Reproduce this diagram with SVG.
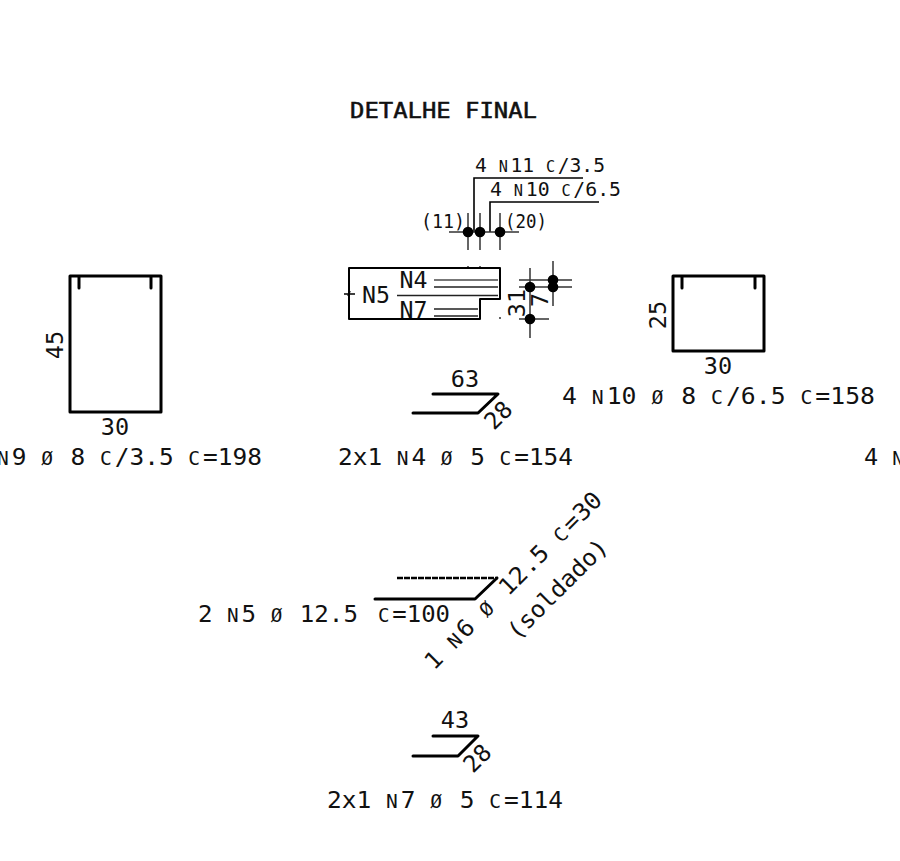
<svg xmlns="http://www.w3.org/2000/svg" width="900" height="861" viewBox="0 0 900 861">
<style>
text{font-family:"DejaVu Sans Mono","Liberation Mono",monospace;fill:#111}
.l{font-size:23.500px}
.s{font-size:20px}
.c{text-anchor:middle}
.l tspan.k{font-size:18.800px;letter-spacing:2.800px}
.s tspan.k{font-size:15.500px;letter-spacing:2.700px}
.h{fill:none;stroke:#000;stroke-width:3;stroke-linecap:round;stroke-linejoin:round}
.m{fill:none;stroke:#000;stroke-width:1.6}
.t{fill:none;stroke:#333;stroke-width:1.5}
.g{fill:none;stroke:#222;stroke-width:1.3}
.d{fill:#000}
</style>
<rect width="900" height="861" fill="#fff"/>
<text id="title" x="350" y="118" textLength="187" lengthAdjust="spacingAndGlyphs" style="font-size:20.500px;stroke:#111;stroke-width:.5">DETALHE FINAL</text>
<g id="section">
<path class="m" d="M474 232V178H583M490 232V202H599"/>
<path class="t" d="M449 232H519M468 213V250M480 213V250M500 213V250M530 268V338M553 261V306M519 280H572M519 287H572M519 319H549M468 266V269M480 266V269M500 317V319"/>
<circle class="d" cx="468" cy="232" r="5.300"/><circle class="d" cx="480" cy="232" r="5.300"/><circle class="d" cx="500" cy="232" r="5.300"/>
<circle class="d" cx="530" cy="287" r="5.300"/><circle class="d" cx="553" cy="280" r="5.300"/><circle class="d" cx="553" cy="287" r="5.300"/><circle class="d" cx="530" cy="319" r="5.300"/>
<path class="h" d="M500 268H349V319H480V299H500Z" style="stroke-width:2"/>
<path class="m" d="M344 294H355M350 291L348 296"/>
<path class="g" d="M434 287H498M434 309H478M434 316H478M397 295.500H498"/>
<path fill="none" stroke="#777" stroke-width="2" d="M434 280H498"/>
<text class="s" x="475" y="172" textLength="130" lengthAdjust="spacingAndGlyphs">4 <tspan class="k">N</tspan>11 <tspan class="k">C</tspan>/3.5</text>
<text class="s" x="490" y="196" textLength="131" lengthAdjust="spacingAndGlyphs">4 <tspan class="k">N</tspan>10 <tspan class="k">C</tspan>/6.5</text>
<text class="s" x="421" y="228" textLength="44" lengthAdjust="spacingAndGlyphs">(11)</text>
<text class="s" x="505" y="228" textLength="42" lengthAdjust="spacingAndGlyphs">(20)</text>
<text class="l" x="399.500" y="288" textLength="28" lengthAdjust="spacingAndGlyphs">N4</text>
<text class="l" x="399.500" y="318" textLength="28" lengthAdjust="spacingAndGlyphs">N7</text>
<text class="l" x="362" y="303" textLength="28" lengthAdjust="spacingAndGlyphs">N5</text>
<text class="l c" transform="translate(525 303) rotate(-90)">31</text>
<text class="l c" transform="translate(548 300) rotate(-90)">7</text>
</g>
<g id="n9">
<path class="h" d="M79 288V276H70V412H161V276H151V288M70 276H161"/>
<text class="l c" transform="translate(63 345) rotate(-90)">45</text>
<text class="l c" x="115" y="435">30</text>
<text class="l" x="-3" y="465" textLength="265" lengthAdjust="spacingAndGlyphs"><tspan class="k">N</tspan>9 <tspan class="k">Ø</tspan> 8 <tspan class="k">C</tspan>/3.5 <tspan class="k">C</tspan>=198</text>
</g>
<g id="n10">
<path class="h" d="M682 288V276H673V351H764V276H755V288M673 276H764"/>
<text class="l c" transform="translate(666 315) rotate(-90)">25</text>
<text class="l c" x="718" y="374">30</text>
<text class="l" x="562" y="404" textLength="313" lengthAdjust="spacingAndGlyphs">4 <tspan class="k">N</tspan>10 <tspan class="k">Ø</tspan> 8 <tspan class="k">C</tspan>/6.5 <tspan class="k">C</tspan>=158</text>
</g>
<g id="n11"><text class="l" x="864" y="465">4 <tspan class="k">N</tspan></text></g>
<g id="n4">
<path class="h" d="M433 394H498L478 413H413"/>
<text class="l c" x="465" y="387">63</text>
<text class="l c" transform="translate(504 421) rotate(-45)">28</text>
<text class="l" x="338" y="465" textLength="235" lengthAdjust="spacingAndGlyphs">2x1 <tspan class="k">N</tspan>4 <tspan class="k">Ø</tspan> 5 <tspan class="k">C</tspan>=154</text>
</g>
<g id="n5">
<path class="h" d="M375 599H475L497 578"/>
<path d="M397 578H498" fill="none" stroke="#000" stroke-width="2.600" stroke-dasharray="6 1"/>
<text class="l" x="378" y="622" textLength="72" lengthAdjust="spacingAndGlyphs"><tspan class="k">C</tspan>=100</text>
<text class="l" x="198" y="622" textLength="160" lengthAdjust="spacingAndGlyphs">2 <tspan class="k">N</tspan>5 <tspan class="k">Ø</tspan> 12.5</text>
<text class="l" transform="translate(434 671) rotate(-45)" textLength="240" lengthAdjust="spacingAndGlyphs">1 <tspan class="k">N</tspan>6 <tspan class="k">Ø</tspan> 12.5 <tspan class="k">C</tspan>=30</text>
<text class="l" transform="translate(517 641) rotate(-45)" textLength="131" lengthAdjust="spacingAndGlyphs">(soldado)</text>
</g>
<g id="n7">
<path class="h" d="M433 736H478L458 756H413"/>
<text class="l c" x="455" y="728">43</text>
<text class="l c" transform="translate(483 764) rotate(-45)">28</text>
<text class="l" x="327" y="808" textLength="236" lengthAdjust="spacingAndGlyphs">2x1 <tspan class="k">N</tspan>7 <tspan class="k">Ø</tspan> 5 <tspan class="k">C</tspan>=114</text>
</g>
</svg>
